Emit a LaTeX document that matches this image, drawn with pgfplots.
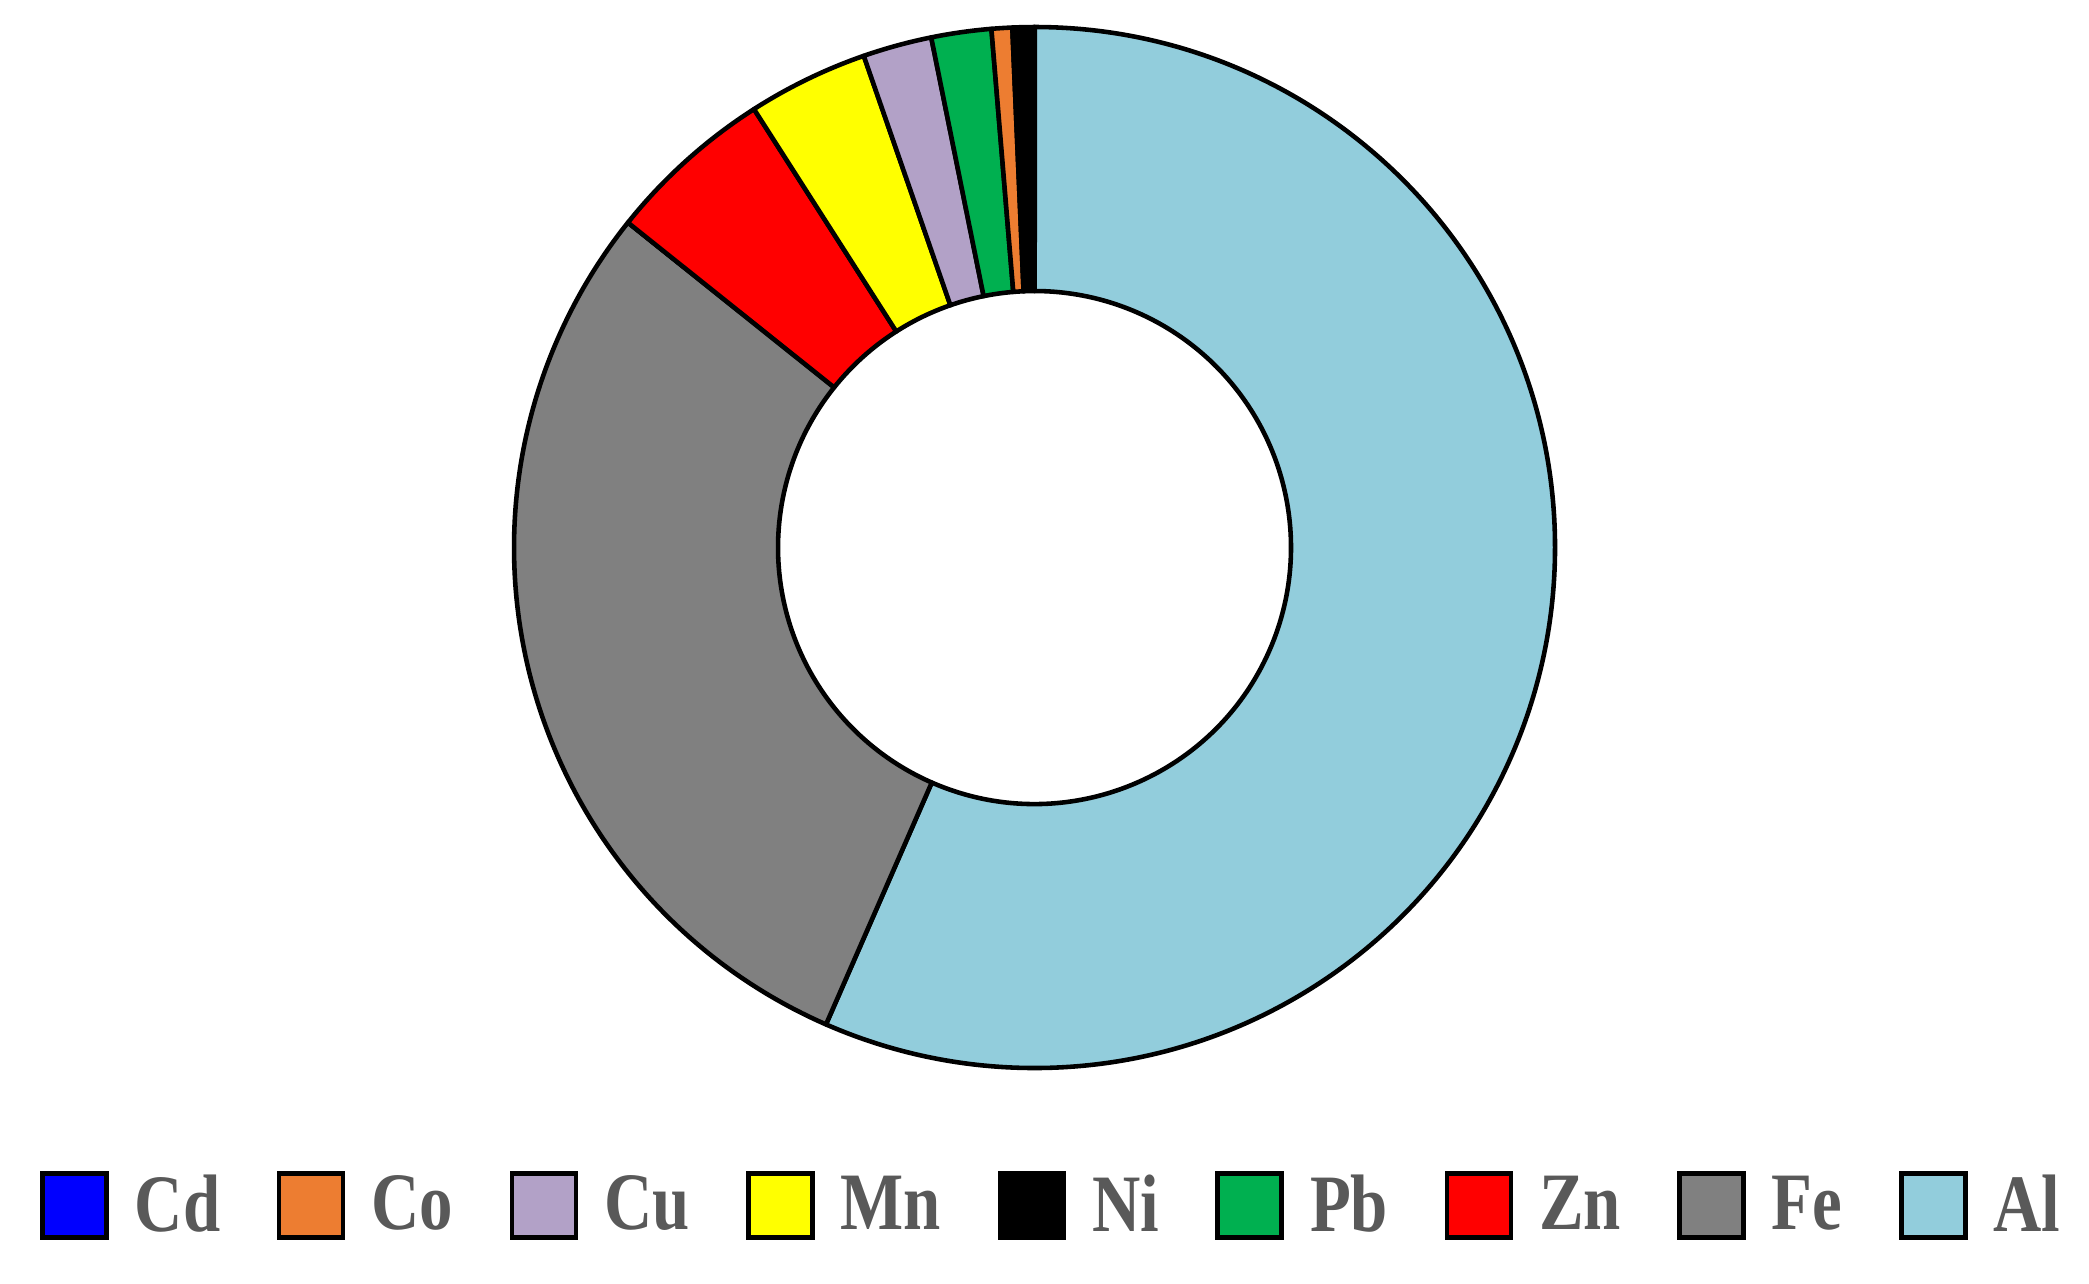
\documentclass[border=0pt]{standalone}
\usepackage{fontspec}
\usepackage{pgfplots}
\usepackage{pgfplotstable}
\pgfplotsset{compat=1.18}
\newfontfamily\legfont[FakeStretch=0.82]{Liberation Serif}
\definecolor{cAl}{HTML}{92CDDC}
\definecolor{cFe}{HTML}{808080}
\definecolor{cZn}{HTML}{FF0000}
\definecolor{cMn}{HTML}{FFFF00}
\definecolor{cCu}{HTML}{B2A1C7}
\definecolor{cPb}{HTML}{00B050}
\definecolor{cCo}{HTML}{ED7D31}
\definecolor{cNi}{HTML}{000000}
\definecolor{cCd}{HTML}{0000FF}
\definecolor{textgray}{HTML}{595959}

% shares in percent, in drawing order (clockwise from the top)
\pgfplotstableread{
name value color
Al 56.56 cAl
Fe 29.17 cFe
Zn 5.21 cZn
Mn 3.74 cMn
Cu 2.14 cCu
Pb 1.86 cPb
Co 0.64 cCo
Ni 0.69 cNi
Cd 0.00 cCd
}\datatable

\begin{document}
\begin{tikzpicture}
\gdef\drawcmds{}
\gdef\cum{0}
\foreach \i in {0,1,2,3,4,5,6,7}{%
  \pgfplotstablegetelem{\i}{value}\of\datatable \global\let\myval\pgfplotsretval
  \pgfplotstablegetelem{\i}{color}\of\datatable \global\let\mycol\pgfplotsretval
  \pgfmathsetmacro\sa{90-\cum*3.6}%
  \pgfmathsetmacro\ea{90-(\cum+\myval)*3.6}%
  \xdef\drawcmds{\unexpanded\expandafter{\drawcmds}%
    \noexpand\filldraw[fill=\mycol, draw=black, line width=1.3pt, line join=round]
      ([shift={(\sa:5.205cm)}]axis cs:0,0) arc[start angle=\sa, end angle=\ea, radius=5.205cm]
      -- ([shift={(\ea:2.565cm)}]axis cs:0,0) arc[start angle=\ea, end angle=\sa, radius=2.565cm] -- cycle;}%
  \pgfmathsetmacro\newcum{\cum+\myval}%
  \xdef\cum{\newcum}%
}
\begin{axis}[
  scale only axis,
  x=5.205cm, y=5.205cm,
  xmin=-1.9875, xmax=2.0259,
  ymin=-1.4131, ymax=1.0519,
  hide axis,
  clip=false,
  legend image code/.code={\draw[#1, draw=black, line width=1.3pt] (0cm,-0.32cm) rectangle (0.64cm,0.32cm);},
  legend columns=9,
  legend cell align=left,
  legend style={
    at={(0.5028,0.0605)}, anchor=center,
    draw=none, fill=none,
    nodes={inner sep=0pt, text=textgray, font=\legfont\bfseries\fontsize{23.2}{26}\selectfont},
    /tikz/every odd column/.append style={column sep=0.26cm},
    /tikz/every even column/.append style={column sep=0.565cm},
  },
]
\path (rel axis cs:0,0) rectangle (rel axis cs:1,1);
\drawcmds
\addlegendimage{fill=cCd}\addlegendentry{Cd}
\addlegendimage{fill=cCo}\addlegendentry{Co}
\addlegendimage{fill=cCu}\addlegendentry{Cu}
\addlegendimage{fill=cMn}\addlegendentry{Mn}
\addlegendimage{fill=cNi}\addlegendentry{Ni}
\addlegendimage{fill=cPb}\addlegendentry{Pb}
\addlegendimage{fill=cZn}\addlegendentry{Zn}
\addlegendimage{fill=cFe}\addlegendentry{Fe}
\addlegendimage{fill=cAl}\addlegendentry{Al}
\end{axis}
\end{tikzpicture}
\end{document}
